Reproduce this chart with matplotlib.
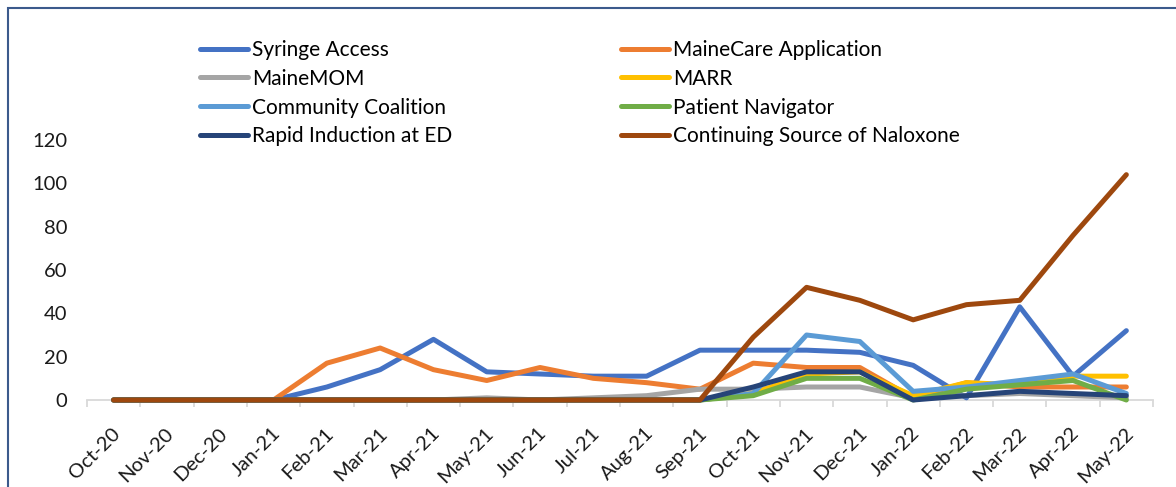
import matplotlib

matplotlib.use("Agg")

import matplotlib.pyplot as plt
import matplotlib.transforms as mtransforms
from matplotlib.patches import Rectangle

plt.rcParams["font.family"] = ["Lato", "DejaVu Sans"]

months = ["Oct-20", "Nov-20", "Dec-20", "Jan-21", "Feb-21", "Mar-21", "Apr-21",
          "May-21", "Jun-21", "Jul-21", "Aug-21", "Sep-21", "Oct-21", "Nov-21",
          "Dec-21", "Jan-22", "Feb-22", "Mar-22", "Apr-22", "May-22"]

syringe_access = [0, 0, 0, 0, 6, 14, 28, 13, 12, 11, 11, 23, 23, 23, 22, 16, 1, 43, 11, 32]
mainecare_app = [0, 0, 0, 0, 17, 24, 14, 9, 15, 10, 8, 5, 17, 15, 15, 1, 8, 6, 6, 6]
mainemom = [0, 0, 0, 0, 0, 0, 0, 1, 0, 1, 2, 5, 5, 6, 6, 1, 2, 3, 2, 1]
marr = [0, 0, 0, 0, 0, 0, 0, 0, 0, 0, 0, 0, 3, 12, 13, 2, 8, 7, 11, 11]
community_coalition = [0, 0, 0, 0, 0, 0, 0, 0, 0, 0, 0, 0, 3, 30, 27, 4, 6, 9, 12, 3]
patient_navigator = [0, 0, 0, 0, 0, 0, 0, 0, 0, 0, 0, 0, 2, 10, 10, 0, 5, 7, 9, 0]
rapid_induction = [0, 0, 0, 0, 0, 0, 0, 0, 0, 0, 0, 0, 6, 13, 13, 0, 2, 4, 3, 2]
naloxone = [0, 0, 0, 0, 0, 0, 0, 0, 0, 0, 0, 0, 29, 52, 46, 37, 44, 46, 76, 104]

series = [
    ("Syringe Access", syringe_access, "#4472C4"),
    ("MaineCare Application", mainecare_app, "#ED7D31"),
    ("MaineMOM", mainemom, "#A5A5A5"),
    ("MARR", marr, "#FFC000"),
    ("Community Coalition", community_coalition, "#5B9BD5"),
    ("Patient Navigator", patient_navigator, "#70AD47"),
    ("Rapid Induction at ED", rapid_induction, "#264478"),
    ("Continuing Source of Naloxone", naloxone, "#9E480E"),
]

fig = plt.figure(figsize=(11.76, 4.87), dpi=100)
ax = fig.add_axes([87 / 1176, 87 / 487, 1066 / 1176, 260 / 487])

x = list(range(len(months)))
handles = []
for name, vals, color in series:
    (ln,) = ax.plot(x, vals, color=color, lw=3.6, label=name,
                    solid_capstyle="round", solid_joinstyle="round", clip_on=False)
    handles.append(ln)

ax.set_xlim(-0.5, len(months) - 0.5)
ax.set_ylim(0, 120)
ax.set_yticks(range(0, 121, 20))
ax.set_xticks(x)
ax.set_xticklabels(months, rotation=45, ha="right", va="center", rotation_mode="anchor")
ax.set_xticks([i - 0.5 for i in range(len(months) + 1)], minor=True)
ax.tick_params(axis="x", which="major", length=0, pad=22, labelsize=14.5, colors="#1a1a1a")
ax.tick_params(axis="x", which="minor", length=5, width=1.3, color="#D9D9D9")
ax.tick_params(axis="y", length=0, pad=14, labelsize=14.5, colors="#1a1a1a")
# nudge the rotated month labels a little to the right
shift = mtransforms.ScaledTranslation(4 / 100, 0, fig.dpi_scale_trans)
for lbl in ax.get_xticklabels():
    lbl.set_transform(lbl.get_transform() + shift)
for s in ("top", "right", "left"):
    ax.spines[s].set_visible(False)
ax.spines["bottom"].set_color("#D9D9D9")
ax.spines["bottom"].set_linewidth(1.3)
ax.spines["bottom"].set_zorder(0)

order = [0, 2, 4, 6, 1, 3, 5, 7]
fig.legend([handles[i] for i in order], [series[i][0] for i in order],
           loc="upper left", bbox_to_anchor=(200 / 1176, 1 - 40 / 487),
           ncol=2, frameon=False, fontsize=15, handlelength=2.3,
           handletextpad=0.2, labelspacing=0.42, columnspacing=8.1,
           borderpad=0, borderaxespad=0)

fig.patches.append(Rectangle((8 / 1176, -0.1), 1.2, 1 - 8 / 487 + 0.1,
                             transform=fig.transFigure, fill=False,
                             edgecolor="#3B5A8C", lw=1.5, zorder=10))

fig.savefig("out.png", dpi=100)
plt.close(fig)
